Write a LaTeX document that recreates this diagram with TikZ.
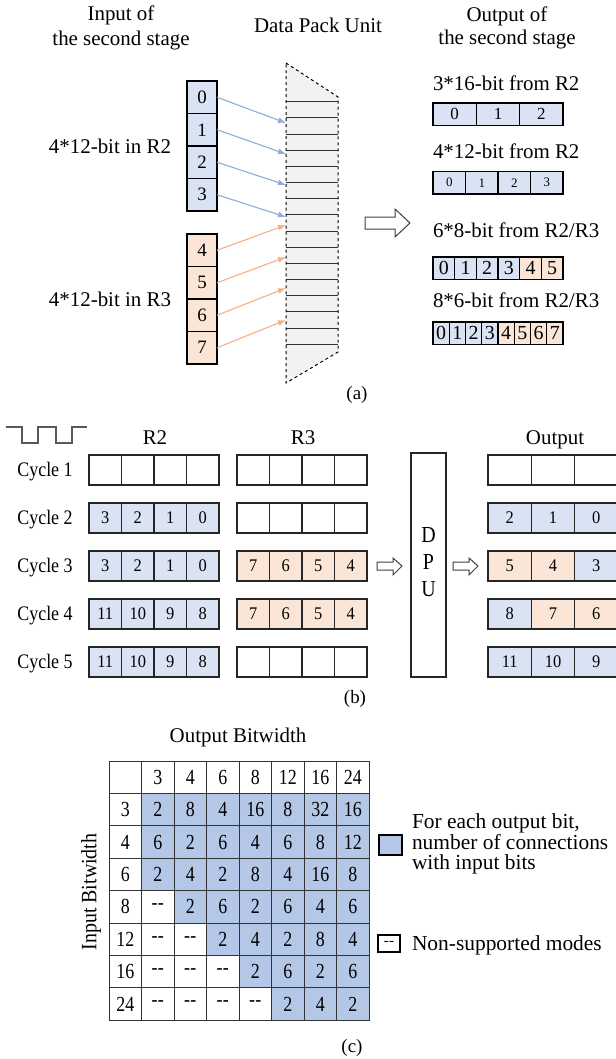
\documentclass[tikz,border=0pt]{standalone}
\usepackage{fontspec}
\setmainfont{Liberation Serif}
\usepackage{graphicx}
\usetikzlibrary{arrows.meta}
\definecolor{lb}{HTML}{DAE3F3}
\definecolor{lo}{HTML}{FBE5D6}
\definecolor{tb}{HTML}{B4C7E7}
\definecolor{ab}{HTML}{8FAADC}
\definecolor{ao}{HTML}{F4B183}
\definecolor{dpufill}{HTML}{F2F2F2}
\newcommand\fs[1]{\fontsize{#1}{#1}\selectfont}
\newcommand\vt[2][1.15]{\scalebox{1}[#1]{#2}}
\newcommand\nd{-\kern0.5bp-}
\def\E{}
\begin{document}
\begin{tikzpicture}[x=1bp, y=-1bp,
  txt/.style={inner sep=0, outer sep=0, anchor=base},
  ttl/.style={txt, font=\fs{21}},
  box/.style={draw, inner sep=0, outer sep=0, anchor=north west},
  acell/.style={box, line width=1.2bp, minimum width=30bp, minimum height=32.5bp, font=\fs{19}},
  ocell/.style={box, line width=1.2bp, minimum height=22.5bp},
  bcell/.style={box, draw=black!85, line width=1.2bp, minimum width=32.5bp, minimum height=30bp, font=\fs{16.5}},
  ucell/.style={bcell, minimum width=43.33bp},
  tcell/.style={box, draw=black!80, line width=1bp, minimum width=32.5bp, minimum height=32.4bp, font=\fs{18}},
  barrow/.style={draw=ab, line width=1.1bp, -{Latex[length=8bp,width=6bp]}},
  oarrow/.style={draw=ao, line width=1.1bp, -{Latex[length=8bp,width=6bp]}},
  hollow/.style={draw=black!75, line width=1bp, fill=white},
]
\useasboundingbox (0,0) rectangle (616,1059);
\clip (0,0) rectangle (616,1059);

% ---------------- (a) ----------------
\node[ttl] (tin1) at (121,20.5) {Input of};
\node[ttl] (tin2) at (121,45) {the second stage};
\node[ttl] (tdpu) at (318,32) {Data Pack Unit};
\node[ttl] (tout1) at (507,21) {Output of};
\node[ttl] (tout2) at (507,44) {the second stage};

\node[ttl] (lr2) at (110,153) {4*12-bit in R2};
\node[ttl] (lr3) at (110,306) {4*12-bit in R3};

\foreach \t [count=\i from 0] in {0,1,2,3}
  \node[acell, fill=lb] (in\t) at (187,{81+\i*32.5}) {\t};
\foreach \t [count=\i from 0] in {4,5,6,7}
  \node[acell, fill=lo] (in\t) at (187,{234+\i*32.5}) {\t};

% data pack unit
\fill[dpufill] (286,63) -- (338,97) -- (338,352) -- (286,383) -- cycle;
\foreach \k in {0,...,15}
  \draw[line width=0.9bp, black!80] (286,{101.7+\k*16.17}) -- (338,{101.7+\k*16.17});
\draw[dashed, line width=1bp] (286,63) -- (338,97) -- (338,352) -- (286,383) -- cycle;

\coordinate (d0) at (286,123);
\coordinate (d1) at (286,154);
\coordinate (d2) at (286,185);
\coordinate (d3) at (286,217);
\coordinate (d4) at (286,225);
\coordinate (d5) at (286,257);
\coordinate (d6) at (286,288);
\coordinate (d7) at (286,320);
\foreach \k in {0,1,2,3} \draw[barrow] (in\k.east) -- (d\k);
\foreach \k in {4,5,6,7} \draw[oarrow] (in\k.east) -- (d\k);

% big hollow arrow
\draw[hollow] (365,217) -- (395,217) -- (395,209) -- (410,223) -- (395,237) -- (395,229) -- (365,229) -- cycle;

% outputs
\node[txt, anchor=base west, font=\fs{21}] (lo1) at (433,90) {3*16-bit from R2};
\foreach \t [count=\i from 0] in {0,1,2}
  \node[ocell, minimum width=43.33bp, fill=lb, font=\fs{17}] (oa\t) at ({433+\i*43.33},103) {\t};
\node[txt, anchor=base west, font=\fs{21}] (lo2) at (433,158) {4*12-bit from R2};
\foreach \t [count=\i from 0] in {0,1,2,3}
  \node[ocell, minimum width=32.5bp, fill=lb, font=\fs{13}] (ob\t) at ({433+\i*32.5},171.5) {\t};
\node[txt, anchor=base west, font=\fs{21}] (lo3) at (433,237) {6*8-bit from R2/R3};
\foreach \t/\c [count=\i from 0] in {0/lb,1/lb,2/lb,3/lb,4/lo,5/lo}
  \node[ocell, minimum width=21.67bp, fill=\c, font=\fs{20}] (oc\t) at ({433+\i*21.67},257) {\t};
\node[txt, anchor=base west, font=\fs{21}] (lo4) at (433,307) {8*6-bit from R2/R3};
\foreach \t/\c [count=\i from 0] in {0/lb,1/lb,2/lb,3/lb,4/lo,5/lo,6/lo,7/lo}
  \node[ocell, minimum width=16.25bp, fill=\c, font=\fs{20}] (od\t) at ({433+\i*16.25},322) {\t};

\node[txt, font=\fs{19}] (capa) at (357,399) {(a)};

% ---------------- (b) ----------------
\draw[line width=1.3bp, black!65] (6,427) -- (22,427) -- (22,443) -- (38,443) -- (38,427) -- (56,427) -- (56,443) -- (72,443) -- (72,427) -- (87,427);
\node[ttl] (hr2) at (155,444) {R2};
\node[ttl] (hr3) at (303,444) {R3};
\node[ttl] (hout) at (555,444) {Output};

\foreach \r in {1,...,5}
  \node[txt, font=\fs{18}] (cyc\r) at (45,{476+(\r-1)*48}) {\vt{Cycle \r}};

\foreach \r/\vals/\c in {1/{\E,\E,\E,\E}/white, 2/{3,2,1,0}/lb, 3/{3,2,1,0}/lb, 4/{11,10,9,8}/lb, 5/{11,10,9,8}/lb}
  \foreach \t [count=\i from 0] in \vals
    \node[bcell, fill=\c] (p\r-\i) at ({89+\i*32.5},{455+(\r-1)*48}) {\vt[1.08]{\t}};
\foreach \r/\vals/\c in {1/{\E,\E,\E,\E}/white, 2/{\E,\E,\E,\E}/white, 3/{7,6,5,4}/lo, 4/{7,6,5,4}/lo, 5/{\E,\E,\E,\E}/white}
  \foreach \t [count=\i from 0] in \vals
    \node[bcell, fill=\c] (s\r-\i) at ({237+\i*32.5},{455+(\r-1)*48}) {\vt[1.08]{\t}};

\node[box, draw=black!85, line width=1.2bp, minimum width=35bp, minimum height=224bp, font=\fs{20}] (dpu) at (411,453)
  {\vt{\begin{tabular}{@{}c@{}}D\\[3.6bp]P\\[3.6bp]U\end{tabular}}};

\draw[hollow] (377,562) -- (393,562) -- (393,558) -- (402,566) -- (393,575) -- (393,570) -- (377,570) -- cycle;
\draw[hollow] (453,562) -- (469,562) -- (469,558) -- (478,566) -- (469,575) -- (469,570) -- (453,570) -- cycle;

\foreach \r/\vals in {1/{\E/white,\E/white,\E/white}, 2/{2/lb,1/lb,0/lb}, 3/{5/lo,4/lo,3/lb}, 4/{8/lb,7/lo,6/lo}, 5/{11/lb,10/lb,9/lb}}
  \foreach \t/\c [count=\i from 0] in \vals
    \node[ucell, fill=\c] (q\r-\i) at ({488+\i*43.33},{455+(\r-1)*48}) {\vt[1.08]{\t}};

\node[txt, font=\fs{19}] (capb) at (355,703) {(b)};

% ---------------- (c) ----------------
\node[ttl] (obw) at (238,742) {Output Bitwidth};
\node[txt, anchor=center, rotate=90, font=\fs{20}] (ibw) at (91,892) {\vt[1.1]{Input Bitwidth}};

\fill[tb] (141.5,793.4) -- (369,793.4) -- (369,1020.2) -- (271.5,1020.2) -- (271.5,987.8) -- (239,987.8) -- (239,955.4) -- (206.5,955.4) -- (206.5,923) -- (174,923) -- (174,890.6) -- (141.5,890.6) -- cycle;

\foreach \rl [count=\r from 0] in {{\E,3,4,6,8,12,16,24},{3,2,8,4,16,8,32,16},{4,6,2,6,4,6,8,12},{6,2,4,2,8,4,16,8},{8,\nd,2,6,2,6,4,6},{12,\nd,\nd,2,4,2,8,4},{16,\nd,\nd,\nd,2,6,2,6},{24,\nd,\nd,\nd,\nd,2,4,2}}
  \foreach \v [count=\c from 0] in \rl
    \node[tcell] (t\r-\c) at ({109+\c*32.5},{761+\r*32.4}) {\vt[1.2]{\v}};

\node[box, line width=1.2bp, fill=tb, minimum width=23bp, minimum height=20bp] (leg1) at (379,835) {};
\node[txt, anchor=base west, font=\fs{21.5}] (leg1a) at (412,828) {For each output bit,};
\node[txt, anchor=base west, font=\fs{21.5}] (leg1b) at (412,849) {number of connections};
\node[txt, anchor=base west, font=\fs{21.5}] (leg1c) at (412,869.5) {with input bits};

\node[box, line width=1.2bp, minimum width=22bp, minimum height=17bp, font=\fs{15}] (leg2) at (378,935) {\nd};
\node[txt, anchor=base west, font=\fs{21.5}] (leg2t) at (412,950) {Non-supported modes};

\node[txt, font=\fs{19}] (capc) at (352,1052) {(c)};
\end{tikzpicture}
\end{document}
